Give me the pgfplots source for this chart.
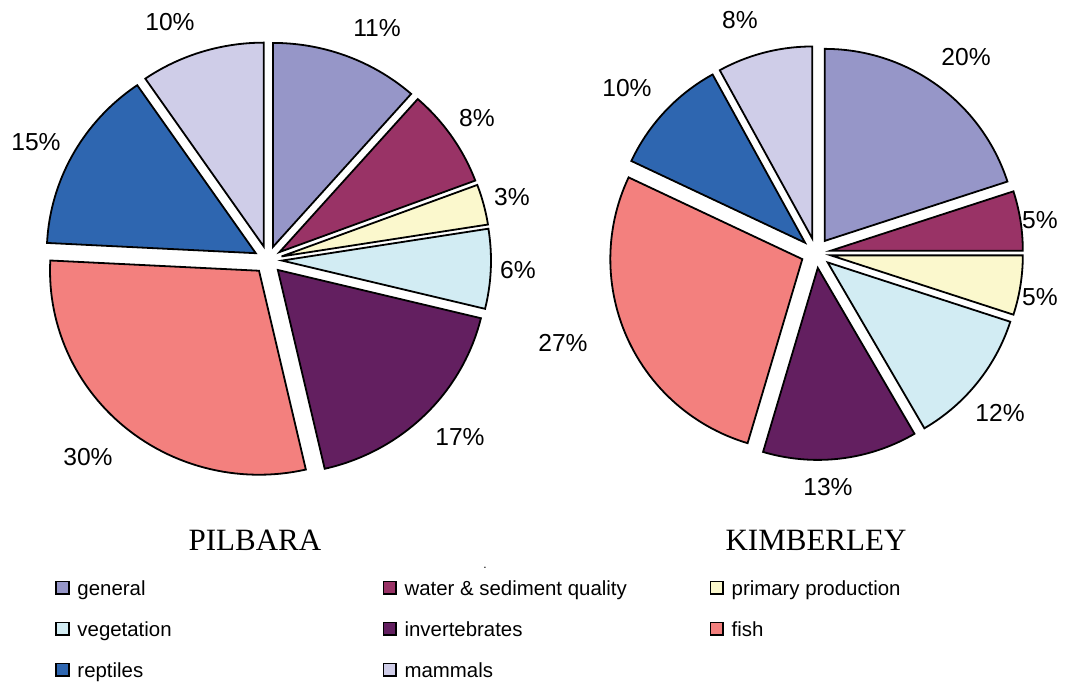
\documentclass[border=0pt]{standalone}
\usepackage{fontspec}
\setmainfont{Liberation Sans}
\newfontfamily\titlefont{Liberation Serif}
\usepackage{pgfplots}
\pgfplotsset{compat=1.18}

\definecolor{cgen}{HTML}{9696C8}
\definecolor{cwat}{HTML}{993366}
\definecolor{cpri}{HTML}{FBF8CD}
\definecolor{cveg}{HTML}{D2ECF3}
\definecolor{cinv}{HTML}{631F60}
\definecolor{cfis}{HTML}{F3807E}
\definecolor{crep}{HTML}{2E66B0}
\definecolor{cmam}{HTML}{CFCDE8}

% one exploded slice, clockwise from 12 o'clock; pixel coords (y down)
\newcommand\pcum{0}
\newcommand\slice[3]{%
  \pgfmathsetmacro\psa{90-3.6*\pcum}%
  \pgfmathsetmacro\pea{90-3.6*(\pcum+#1)}%
  \pgfmathsetmacro\pma{(\psa+\pea)/2}%
  \pgfmathsetmacro\pox{\pcx+\pex*cos(\pma)}%
  \pgfmathsetmacro\poy{\pcy-\pex*sin(\pma)}%
  \edef\temp{\noexpand\addplot[pieslice,fill=#2,domain=\pea:\psa,#3]
    ({\pox+\prx*cos(x)},{\poy-\pry*sin(x)}) -- (\pox,\poy) -- cycle;}%
  \temp
  \pgfmathsetmacro\pnc{\pcum+#1}\xdef\pcum{\pnc}%
}
\newcommand\lab{\fontsize{12.3}{14}\selectfont}
\newcommand\ent[2]{\makebox[#1][l]{\rule[-6.5pt]{0pt}{20.5pt}#2}}

\begin{document}
\begin{tikzpicture}
\begin{axis}[
  scale only axis, width=532.5pt, height=341pt,
  xmin=0, xmax=1065, ymin=0, ymax=682, y dir=reverse,
  hide axis, clip=false, no markers,
  pieslice/.style={draw=black, line width=0.9pt, samples=61},
  legend columns=3,
  legend image code/.code={\draw[#1,draw=black,line width=0.9pt] (0pt,-3.1pt) rectangle (6.3pt,3.2pt); \path (10.15pt,0pt);},
  legend style={at={(axis cs:55,567)}, anchor=north west, draw=none, fill=none,
    inner xsep=0pt, inner ysep=0pt,
    font=\fontsize{10.2}{12}\selectfont, column sep=0pt, row sep=0pt,
    nodes={inner sep=0pt, text depth=6.5pt}},
  legend entries={
    \ent{152.5pt}{general},
    \ent{152.5pt}{water \& sediment quality},
    \ent{100pt}{primary production},
    \ent{152.5pt}{vegetation},
    \ent{152.5pt}{invertebrates},
    \ent{100pt}{fish},
    \ent{152.5pt}{reptiles},
    \ent{152.5pt}{mammals}},
]
% PILBARA (shares read from the slice edges; labels are rounded)
\def\pcx{268}\def\pcy{260}\def\prx{209}\def\pry{204}\def\pex{14}\gdef\pcum{0}
\slice{11.5}{cgen}{}
\slice{7.8}{cwat}{}
\slice{3.2}{cpri}{}
\slice{6.3}{cveg}{}
\slice{17.6}{cinv}{}
\slice{29.4}{cfis}{}
\slice{14.6}{crep}{}
\slice{9.6}{cmam}{}
% KIMBERLEY
\def\pcx{816}\def\pcy{253}\def\prx{192}\def\pry{192}\def\pex{15}\gdef\pcum{0}
\slice{20}{cgen}{forget plot}
\slice{5}{cwat}{forget plot}
\slice{5}{cpri}{forget plot}
\slice{11.6}{cveg}{forget plot}
\slice{13}{cinv}{forget plot}
\slice{27.4}{cfis}{forget plot}
\slice{10}{crep}{forget plot}
\slice{8}{cmam}{forget plot}

\node[font=\lab] at (377,28) {11\%};
\node[font=\lab] at (477,118) {8\%};
\node[font=\lab] at (512,197) {3\%};
\node[font=\lab] at (518,270) {6\%};
\node[font=\lab] at (460,437) {17\%};
\node[font=\lab] at (88,457) {30\%};
\node[font=\lab] at (36,142) {15\%};
\node[font=\lab] at (170,22) {10\%};

\node[font=\lab] at (966,57) {20\%};
\node[font=\lab] at (1040,220) {5\%};
\node[font=\lab] at (1040,297) {5\%};
\node[font=\lab] at (1000,413) {12\%};
\node[font=\lab] at (828,487) {13\%};
\node[font=\lab] at (563,343) {27\%};
\node[font=\lab] at (627,88) {10\%};
\node[font=\lab] at (740,20) {8\%};

\node[font=\titlefont\fontsize{15.5}{18}\selectfont] at (255,540) {PILBARA};
\node[font=\titlefont\fontsize{15.5}{18}\selectfont] at (816,540) {KIMBERLEY};
\node[font=\fontsize{6}{7}\selectfont] at (485,568) {.};
\end{axis}
\pgfresetboundingbox
\path[use as bounding box] (current axis.south west) rectangle (current axis.north east);
\end{tikzpicture}
\end{document}
